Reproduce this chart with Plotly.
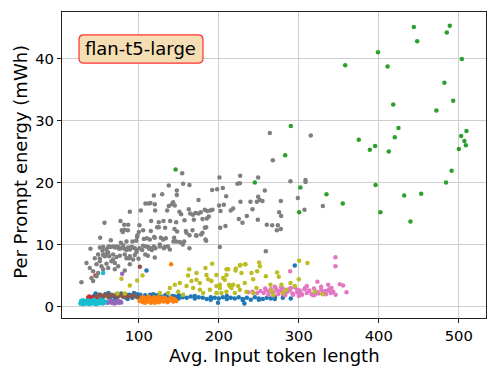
import plotly.graph_objects as go

# ---------------- data ----------------
blue_x = [40, 44, 48, 52, 56, 60, 64, 68, 72, 76, 80, 84, 88, 92, 96, 100, 104, 108, 112, 116,
          120, 124, 128, 132, 136, 140, 145, 150, 155, 160, 165, 170, 175, 180, 185, 190, 195,
          200, 205, 210, 215, 220, 225, 230, 235, 240, 245, 250, 255, 260, 265, 270, 280, 290,
          50, 58, 66, 74, 82, 90, 98, 106, 114, 122, 130, 150, 170, 190, 210, 230, 250, 270,
          46, 54, 62, 70, 78, 86, 94, 102, 110, 118, 126, 134, 142, 148,
          109.6, 295.0, 199.0, 232.0]
blue_y = [1.5, 1.7, 1.4, 1.8, 1.6, 1.9, 1.5, 1.7, 1.4, 1.8, 1.6, 1.5, 1.9, 1.4, 1.7, 1.6, 1.5, 1.8, 1.4, 1.7,
          1.5, 1.6, 1.3, 1.7, 1.5, 1.4, 1.6, 1.3, 1.5, 1.4, 1.6, 1.3, 1.5, 1.4, 1.2, 1.5, 1.4,
          1.3, 1.5, 1.2, 1.4, 1.3, 1.5, 1.2, 1.4, 1.1, 1.5, 1.3, 1.2, 1.4, 1.3, 1.5, 1.4, 1.3,
          1.9, 2.0, 1.8, 2.0, 1.9, 1.8, 2.0, 1.2, 1.9, 1.8, 1.2, 1.8, 1.7, 1.1, 1.7, 1.0, 1.1, 1.2,
          2.1, 1.3, 2.2, 1.3, 2.1, 1.2, 2.2, 1.9, 1.3, 2.0, 1.8, 1.9, 1.7, 1.5,
          5.8, 6.6, 0.6, 0.5]

orange_x = [101, 103, 105, 107, 109, 111, 113, 115, 117, 119, 121, 123, 125, 127, 129, 131, 133, 135,
            137, 139, 141, 143, 145, 147, 104, 108, 112, 116, 120, 124, 128, 132, 136, 140, 144,
            110, 118, 126, 134, 140.4]
orange_y = [0.9, 1.2, 0.7, 1.4, 1.0, 0.8, 1.3, 0.6, 1.1, 1.5, 0.9, 1.2, 0.7, 1.4, 1.0, 0.8, 1.3, 1.1,
            0.9, 1.2, 1.0, 0.8, 1.1, 0.9, 1.5, 0.6, 1.6, 1.3, 0.6, 1.5, 1.0, 1.4, 0.7, 1.4, 1.2,
            1.0, 0.9, 0.8, 1.1, 6.8]

green_x = [443.8, 488.7, 485.0, 448.0, 399.0, 503.8, 358.0, 411.0, 482.0, 493.0, 418.0, 472.0,
           290.0, 424.6, 420.0, 509.6, 503.0, 375.0, 388.8, 395.4, 412.5, 507.0, 508.8, 500.0,
           283.0, 146.0, 491.0, 484.0, 245.0, 396.0, 302.0, 334.6, 453.0, 431.7, 355.0, 402.0,
           300.4, 439.6]
green_y = [45.1, 45.3, 44.2, 42.8, 41.0, 39.9, 38.9, 38.7, 36.1, 33.2, 32.6, 31.6,
           29.1, 28.8, 27.3, 28.3, 27.5, 26.9, 25.3, 25.9, 25.0, 26.7, 26.0, 25.4,
           24.4, 22.1, 21.9, 20.0, 20.0, 19.6, 19.2, 18.1, 18.2, 17.9, 16.6, 15.2,
           15.2, 13.7]

red_x = [45.8, 37.9, 36.7, 40.0, 44.0, 48.0]
red_y = [5.0, 1.6, 1.4, 1.2, 1.5, 1.3]

purple_x = [79.2, 61, 63, 65, 67, 69, 71, 73, 75, 77, 62, 66, 70, 74, 78]
purple_y = [5.3, 0.6, 0.8, 0.7, 0.55, 0.8, 0.65, 0.75, 0.6, 0.8, 0.7, 0.9, 0.5, 0.9, 0.65]

brown_x = [101.3, 48, 52, 55, 58, 62, 66, 70, 74, 78, 82, 86, 90, 94, 98, 60, 72, 84]
brown_y = [6.4, 1.7, 1.9, 1.6, 1.8, 1.5, 1.9, 1.7, 1.6, 1.8, 1.5, 1.7, 1.6, 1.8, 1.5, 2.0, 2.0, 1.9]

pink_x = [256, 259, 262, 265, 268, 271, 274, 277, 280, 283, 286, 289, 292, 295, 298, 301, 304, 307,
          310, 313, 316, 319, 322, 325, 328, 331, 334, 337, 340, 343, 346,
          258, 263, 268, 273, 278, 283, 288, 293, 298, 303, 308, 313, 318, 323, 328, 333, 338,
          270, 280, 290, 300, 310, 320,
          345.8, 345.8, 289.2, 323.3, 359.6, 351.3, 355.4, 336.7, 340.8, 236.7, 242.1, 248.0, 252.0]
pink_y = [2.2, 2.6, 1.9, 2.8, 2.3, 3.0, 2.0, 2.5, 2.9, 1.8, 2.4, 2.7, 2.1, 3.1, 2.3, 2.6, 1.9, 2.8,
          2.2, 2.5, 2.0, 2.9, 2.4, 2.1, 2.7, 2.3, 2.0, 2.6, 2.2, 2.4, 1.9,
          2.9, 2.4, 1.8, 2.6, 3.1, 2.2, 2.8, 1.9, 2.7, 2.1, 3.0, 2.6, 1.8, 2.3, 3.2, 2.5, 2.8,
          3.2, 2.0, 3.0, 1.7, 3.3, 1.9,
          7.95, 6.5, 5.7, 4.0, 2.3, 3.6, 3.4, 3.5, 3.0, 2.3, 2.4, 2.2, 2.5]

gray_x = [154.2, 137.5, 155.4, 163.3, 200.8, 226.7, 249.2, 223.3, 226.3, 289.6, 308.4, 308.4,
          147.5, 147.5, 129.2, 118.8, 191.7, 197.9, 205.0, 209.2, 257.5, 249.2, 251.3, 247.5,
          239.6, 254.6, 277.5, 298.8, 307.1, 330.0, 227.1, 174.6, 108.3, 112.5, 114.6, 120.0,
          141.3, 142.9, 137.5, 145.0, 88.8, 102.5, 120.4, 135.4, 150.8, 152.9, 162.5, 164.2,
          167.5, 170.8, 174.6, 177.5, 182.5, 185.4, 189.2, 192.1, 200.4, 206.3, 202.1, 215.0,
          217.9, 242.1, 235.0, 275.4, 277.9, 225.0, 248.8, 260.0, 266.7, 273.8, 277.5, 272.5,
          229.6, 208.3, 201.7, 57.1, 77.1, 81.7, 86.7, 100.8, 115.4, 125.0, 130.8, 139.2,
          146.7, 157.1, 168.8, 179.6, 185.0, 187.5, 86.3, 78.8, 82.1, 80.0, 100.0, 105.4,
          115.0, 122.9, 125.0, 132.9, 144.6, 147.9, 158.8, 167.1, 171.7, 177.9, 182.5, 184.2,
          51.7, 65.0, 77.5, 84.6, 92.1, 96.7, 97.9, 106.3, 110.0, 113.8, 120.0, 127.5,
          133.8, 143.3, 156.7, 184.2, 201.3, 39.6, 51.3, 54.6, 59.6, 61.7, 64.6, 67.9,
          70.4, 72.1, 74.2, 75.4, 77.9, 82.5, 84.6, 88.8, 92.5, 95.0, 97.5, 100.8,
          104.2, 108.8, 112.9, 116.3, 118.8, 120.8, 126.3, 131.3, 136.3, 163.3, 258.8, 45.0,
          51.3, 55.4, 59.6, 62.9, 67.9, 72.1, 76.3, 84.6, 88.8, 95.0, 99.6, 108.0,
          111.3, 120.0, 67.9, 92.9, 98.3, 119.2, 130.4, 144.2, 146.7, 151.3, 155.0, 159.6,
          163.3, 172.1, 179.6, 183.3, 55.4, 62.9, 80.4, 86.7, 90.8, 105.4, 111.7, 115.8,
          126.3, 132.5, 138.8, 49.2, 51.3, 57.5, 61.7, 82.5, 87.9, 97.1, 47.1, 53.3,
          59.6, 65.8, 70.0, 74.2, 42.9, 49.2, 55.4, 61.7, 70.0, 28.3, 40.8, 47.1,
          42.9, 38.8, 34.6, 88.8, 82.5, 263.8, 315.0, 267.5]
gray_y = [21.5, 19.5, 19.8, 19.6, 20.8, 21.1, 20.8, 19.8, 19.9, 20.2, 20.4, 20.1,
          18.7, 18.0, 18.1, 17.9, 18.8, 18.9, 19.1, 17.8, 18.7, 17.7, 17.2, 16.9,
          16.9, 17.0, 17.0, 17.5, 15.6, 16.2, 16.9, 17.2, 16.6, 16.6, 16.7, 16.5,
          16.5, 16.8, 16.2, 16.3, 15.3, 15.5, 15.5, 15.5, 15.3, 14.9, 15.7, 15.0,
          14.8, 15.1, 15.0, 15.2, 15.6, 15.4, 15.5, 15.6, 16.3, 16.4, 15.4, 15.5,
          15.8, 15.7, 14.6, 15.2, 14.6, 14.1, 14.0, 13.2, 13.1, 13.1, 12.5, 12.3,
          13.5, 13.0, 12.7, 13.5, 13.8, 13.2, 13.2, 13.1, 13.8, 13.6, 13.8, 13.8,
          13.6, 13.9, 14.0, 14.1, 14.2, 14.5, 12.3, 12.3, 12.4, 12.0, 12.0, 12.3,
          12.2, 12.8, 12.8, 12.7, 12.5, 12.1, 12.2, 12.3, 11.5, 11.6, 12.7, 12.8,
          11.1, 10.7, 10.3, 10.5, 10.5, 10.6, 11.2, 10.9, 11.0, 10.8, 11.1, 11.1,
          11.0, 10.5, 10.5, 10.6, 9.6, 9.3, 9.5, 9.0, 9.2, 9.6, 9.6, 9.7,
          9.5, 9.7, 9.6, 9.3, 9.4, 9.3, 9.1, 9.2, 9.5, 9.4, 9.1, 9.4,
          9.1, 9.7, 9.3, 9.1, 9.7, 9.4, 9.7, 9.4, 9.7, 9.4, 8.9, 7.8,
          7.7, 8.3, 8.5, 8.1, 8.4, 8.0, 8.2, 7.8, 8.1, 8.3, 7.7, 8.4,
          8.2, 7.9, 7.6, 7.6, 11.5, 11.2, 10.8, 11.1, 10.5, 10.4, 10.0, 11.9,
          11.5, 11.4, 11.9, 10.8, 9.6, 9.7, 9.9, 9.5, 9.6, 9.8, 9.6, 9.4,
          10.0, 9.6, 9.2, 8.4, 7.3, 8.1, 8.7, 8.4, 7.8, 8.8, 6.8, 6.5,
          6.9, 7.3, 7.0, 6.5, 5.7, 5.4, 6.0, 6.2, 6.0, 3.9, 4.6, 4.9,
          4.1, 6.2, 7.0, 6.8, 5.8, 28.0, 27.6, 23.6]

olive_x = [78.3, 88.8, 97.9, 104.6, 73.3, 82.5, 126.3, 136.7, 145.0, 151.3, 161.7, 163.0,
           172.1, 176.3, 183.3, 191.7, 184.6, 190.8, 197.0, 205.4, 209.6, 218.0, 226.3, 232.9,
           221.3, 240.8, 247.1, 242.9, 149.2, 159.6, 167.9, 176.3, 188.8, 197.0, 209.6, 213.8,
           226.3, 234.6, 138.8, 155.4, 180.4, 201.3, 165.8, 172.1, 186.7, 197.0,
           227.1, 233.3, 220.8, 250.4, 251.3, 247.9, 228.3, 242.9, 258.8, 272.9, 275.0, 300.4,
           310.8, 300.0, 211.7, 209.6, 207.5, 212.9, 215.8, 224.2, 232.5, 220.0, 264.6, 278.3,
           265.8, 284.6, 289.6, 295.0, 267.9, 280.4, 203.3, 201.3, 320.0, 330.0]
olive_y = [4.5, 3.4, 4.2, 5.0, 2.1, 2.1, 2.2, 2.2, 3.5, 3.8, 5.0, 6.0,
           4.3, 3.8, 6.2, 6.9, 5.1, 4.1, 3.3, 4.6, 6.0, 3.5, 6.6, 6.8,
           6.1, 5.4, 3.0, 2.2, 2.4, 3.3, 3.0, 2.7, 2.7, 2.2, 2.4, 3.3,
           2.7, 2.4, 3.0, 1.9, 2.2, 3.5, 4.1, 5.4, 4.4, 5.1,
           6.7, 6.8, 5.8, 7.1, 6.5, 5.7, 5.4, 4.4, 4.9, 5.5, 4.8, 7.4,
           7.0, 4.4, 6.0, 5.1, 4.3, 3.5, 3.0, 3.3, 3.8, 2.2, 3.5, 3.5,
           2.6, 2.7, 3.8, 3.3, 1.9, 2.2, 2.2, 3.0, 2.4, 2.0]

cyan_x = [27, 28, 29, 30, 31, 32, 33, 34, 35, 36, 37, 38, 39, 40, 41, 42, 43, 44, 45, 46,
          47, 48, 49, 50, 51, 52, 53, 54, 55, 56, 28, 30, 32, 34, 36, 38, 40, 42, 44, 46,
          48, 50, 52, 54, 57, 58, 55.4]
cyan_y = [0.5, 0.8, 0.6, 1.0, 0.4, 0.7, 0.9, 0.5, 0.6, 1.0, 0.7, 0.4, 0.8, 0.6, 0.9, 0.5, 0.7, 1.0, 0.6, 0.8,
          0.4, 0.7, 0.9, 0.5, 0.8, 0.6, 0.7, 1.0, 0.5, 0.8, 0.9, 0.4, 0.7, 0.6, 0.9, 0.5, 0.8, 0.6, 1.1, 0.4,
          0.7, 0.9, 0.6, 0.8, 0.6, 0.8, 5.4]

series = [
    (blue_x, blue_y, "#1f77b4"),
    (orange_x, orange_y, "#ff7f0e"),
    (green_x, green_y, "#2ca02c"),
    (red_x, red_y, "#d62728"),
    (purple_x, purple_y, "#9467bd"),
    (brown_x, brown_y, "#8c564b"),
    (pink_x, pink_y, "#e377c2"),
    (gray_x, gray_y, "#7f7f7f"),
    (olive_x, olive_y, "#bcbd22"),
    (cyan_x, cyan_y, "#17becf"),
]

x_ticks = [100, 200, 300, 400, 500]
y_ticks = [0, 10, 20, 30, 40]
x_title = "Avg. Input token length"
y_title = "Per Prompt energy (mWh)"
model_label = "flan-t5-large"

# ---------------- figure ----------------
fig = go.Figure()
for xs, ys, col in series:
    fig.add_trace(go.Scatter(x=xs, y=ys, mode="markers",
                             marker=dict(size=4.5, color=col, line=dict(width=0)),
                             showlegend=False, hoverinfo="skip"))

font_family = "DejaVu Sans, sans-serif"
axis_common = dict(showgrid=True, gridcolor="#cfcfcf", gridwidth=1,
                   showline=True, linecolor="#222222", linewidth=1, mirror=True,
                   ticks="outside", ticklen=4, tickcolor="#222222",
                   tickfont=dict(size=14.8, color="black", family=font_family),
                   zeroline=False, automargin=False)

fig.update_xaxes(range=[4, 534], tickvals=x_ticks, **axis_common)
fig.update_yaxes(range=[-1.85, 47.5], tickvals=y_ticks, **axis_common)

# axis titles placed as annotations for exact positioning
fig.add_annotation(text=x_title, x=0.5, y=-0.122, xref="paper", yref="paper",
                   showarrow=False, xanchor="center", yanchor="middle", borderpad=0,
                   font=dict(size=18, color="black", family=font_family))
fig.add_annotation(text=y_title, x=-0.097, y=0.51, xref="paper", yref="paper",
                   showarrow=False, xanchor="center", yanchor="middle", textangle=-90,
                   borderpad=0,
                   font=dict(size=18, color="black", family=font_family))

# rounded label box (paper coordinates)
x0, x1, y0, y1 = 0.0401, 0.3325, 0.833, 0.925
rx, ry = 0.012, 0.016
path = (f"M {x0+rx},{y0} L {x1-rx},{y0} Q {x1},{y0} {x1},{y0+ry} "
        f"L {x1},{y1-ry} Q {x1},{y1} {x1-rx},{y1} L {x0+rx},{y1} "
        f"Q {x0},{y1} {x0},{y1-ry} L {x0},{y0+ry} Q {x0},{y0} {x0+rx},{y0} Z")
fig.add_shape(type="path", path=path, xref="paper", yref="paper",
              fillcolor="#f5deb3", line=dict(color="#ff3030", width=1.2), layer="above")
fig.add_annotation(text=model_label, x=(x0 + x1) / 2, y=(y0 + y1) / 2 + 0.002,
                   xref="paper", yref="paper", showarrow=False,
                   xanchor="center", yanchor="middle",
                   font=dict(size=18, color="black", family=font_family))

# page body has an 8px default margin, so the figure is sized to fit inside it
fig.update_layout(template="none", width=490, height=366,
                  margin=dict(l=54, r=12, t=4, b=56),
                  paper_bgcolor="white", plot_bgcolor="white",
                  font=dict(family=font_family))

fig.write_html("out.html")
